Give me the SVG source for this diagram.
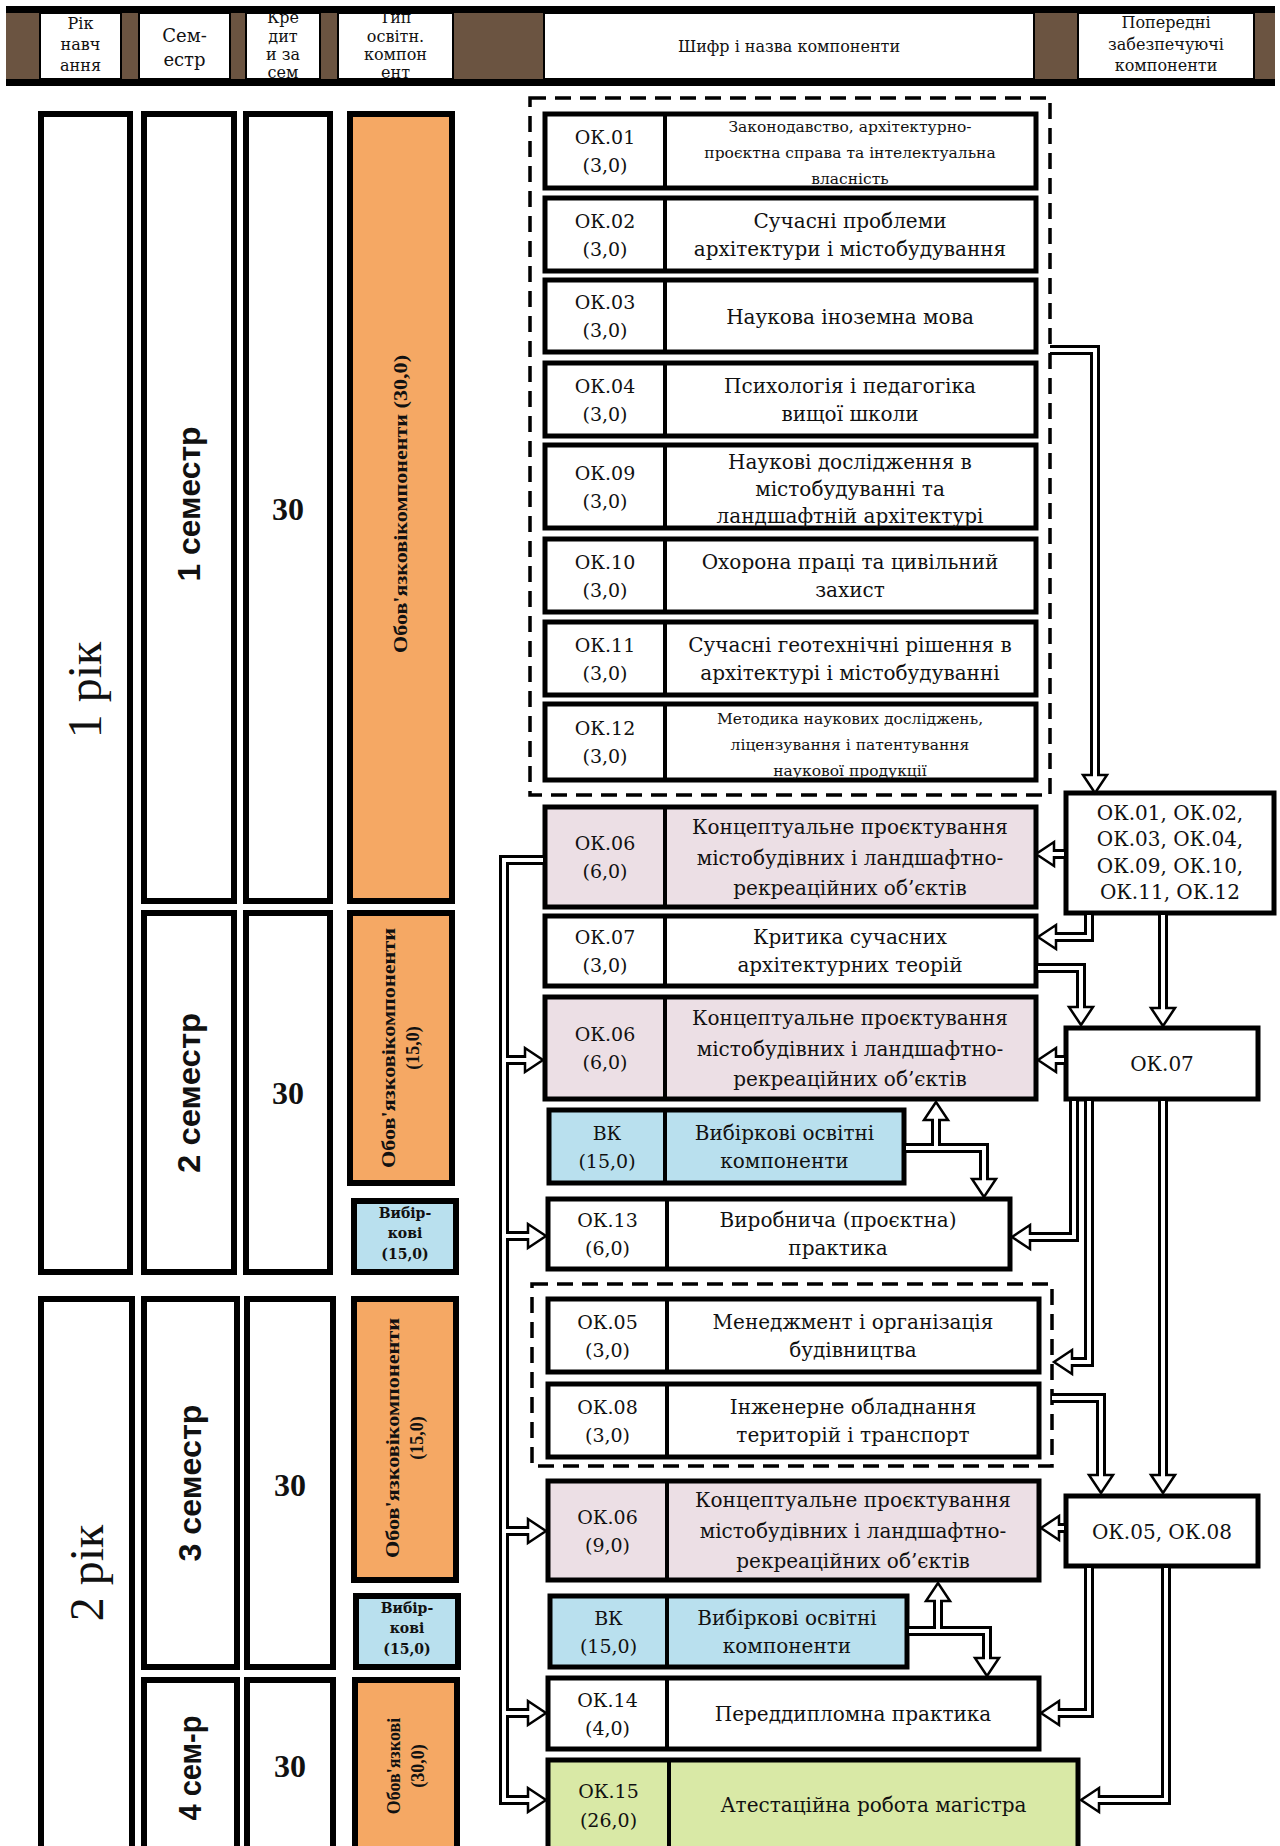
<svg xmlns="http://www.w3.org/2000/svg" width="1280" height="1846" viewBox="0 0 1280 1846">
<style>
.bx{stroke:#000;stroke-width:5}
.lb{stroke:#000;stroke-width:6}
.w{fill:#fff}.pk{fill:#ecdfe5}.bl{fill:#b9e0ee}.gr{fill:#d9e9a6}.or{fill:#f5a864}
.dv{stroke:#000;stroke-width:4}
.ds{fill:none;stroke:#000;stroke-width:3.5;stroke-dasharray:16 9}
.t{font-family:"DejaVu Serif","Liberation Serif",serif;font-size:19px;text-anchor:middle;fill:#111}
.tt{font-size:20px}
.sm{font-size:15.5px}
.hd{font-family:"DejaVu Serif","Liberation Serif",serif;font-size:16px;text-anchor:middle;fill:#111}
.yr{font-family:"Liberation Serif",serif;font-size:48px;text-anchor:middle;fill:#111}
.sem{font-family:"Liberation Sans",Arial,sans-serif;font-weight:bold;font-size:32px;text-anchor:middle;fill:#111}
.cr{font-family:"Liberation Serif",serif;font-weight:bold;font-size:32px;text-anchor:middle;fill:#111}
.ob{font-family:"Liberation Serif",serif;font-weight:bold;font-size:18px;text-anchor:middle;fill:#111}
.vb{font-family:"DejaVu Serif","Liberation Serif",serif;font-weight:bold;font-size:14px;text-anchor:middle;fill:#111}
.co{fill:none;stroke:#000;stroke-width:10;stroke-linejoin:miter;marker-end:url(#ah)}
.ci{fill:none;stroke:#fff;stroke-width:4;stroke-linejoin:miter}
</style>
<defs>
<marker id="ah" markerUnits="userSpaceOnUse" orient="auto" refX="0" refY="0" markerWidth="24" markerHeight="32" viewBox="-2 -16 24 32" overflow="visible">
<path d="M0,-2 L0,-12 L18,0 L0,12 L0,2" fill="#fff" stroke="#000" stroke-width="2.5" stroke-linejoin="miter"/>
</marker>
<clipPath id="hc"><rect x="0" y="13" width="1280" height="66"/></clipPath>
</defs>
<rect width="1280" height="1846" fill="#fff"/>

<g id="header">
<rect x="6" y="6" width="1269" height="80" fill="#6b5441"/>
<rect x="6" y="6" width="1269" height="7" fill="#000"/>
<rect x="6" y="79" width="1269" height="7" fill="#000"/>
<rect x="40" y="13" width="81" height="66" fill="#fff" stroke="#000" stroke-width="2"/>
<rect x="139" y="13" width="91" height="66" fill="#fff" stroke="#000" stroke-width="2"/>
<rect x="246" y="13" width="74" height="66" fill="#fff" stroke="#000" stroke-width="2"/>
<rect x="338" y="13" width="115" height="66" fill="#fff" stroke="#000" stroke-width="2"/>
<rect x="544" y="13" width="490" height="66" fill="#fff" stroke="#000" stroke-width="2"/>
<rect x="1078" y="13" width="176" height="66" fill="#fff" stroke="#000" stroke-width="2"/>
<g clip-path="url(#hc)">
<text class="hd" x="80.5" y="29">Рік</text><text class="hd" x="80.5" y="50">навч</text><text class="hd" x="80.5" y="71">ання</text>
<text class="hd" x="184.5" y="42" style="font-size:18px">Сем-</text><text class="hd" x="184.5" y="66" style="font-size:18px">естр</text>
<text class="hd" x="283" y="23">Кре</text><text class="hd" x="283" y="42">дит</text><text class="hd" x="283" y="60">и за</text><text class="hd" x="283" y="78">сем</text>
<text class="hd" x="395.5" y="23">Тип</text><text class="hd" x="395.5" y="42">освітн.</text><text class="hd" x="395.5" y="60">компон</text><text class="hd" x="395.5" y="78">ент</text>
<text class="hd" x="789" y="52">Шифр і назва компоненти</text>
<text class="hd" x="1166" y="28">Попередні</text><text class="hd" x="1166" y="50">забезпечуючі</text><text class="hd" x="1166" y="71">компоненти</text>
</g>
</g>

<g id="year1">
<rect class="lb w" x="41" y="114" width="89" height="1158"/>
<text class="yr" transform="translate(85,690) rotate(-90)" y="16">1 рік</text>
</g>
<g id="year2">
<rect class="lb w" x="41" y="1299" width="91" height="570"/>
<text class="yr" transform="translate(87,1573) rotate(-90)" y="16">2 рік</text>
</g>
<g id="sem1">
<rect class="lb w" x="144" y="114" width="90" height="787"/>
<text class="sem" transform="translate(189,504) rotate(-90)" y="11" textLength="155" lengthAdjust="spacingAndGlyphs">1 семестр</text>
</g>
<g id="sem2">
<rect class="lb w" x="144" y="913" width="90" height="359"/>
<text class="sem" transform="translate(189,1093) rotate(-90)" y="11" textLength="160" lengthAdjust="spacingAndGlyphs">2 семестр</text>
</g>
<g id="sem3">
<rect class="lb w" x="144" y="1299" width="93" height="368"/>
<text class="sem" transform="translate(190,1483) rotate(-90)" y="11" textLength="157" lengthAdjust="spacingAndGlyphs">3 семестр</text>
</g>
<g id="sem4">
<rect class="lb w" x="144" y="1680" width="93" height="190"/>
<text class="sem" transform="translate(190,1768) rotate(-90)" y="11" textLength="105" lengthAdjust="spacingAndGlyphs">4 сем-р</text>
</g>
<g id="cr1">
<rect class="lb w" x="246" y="114" width="84" height="787"/>
<text class="cr" x="288" y="520">30</text>
</g>
<g id="cr2">
<rect class="lb w" x="246" y="913" width="84" height="359"/>
<text class="cr" x="288" y="1104">30</text>
</g>
<g id="cr3">
<rect class="lb w" x="247" y="1299" width="86" height="368"/>
<text class="cr" x="290" y="1496">30</text>
</g>
<g id="cr4">
<rect class="lb w" x="247" y="1680" width="86" height="190"/>
<text class="cr" x="290" y="1777">30</text>
</g>
<g id="ob1">
<rect class="lb or" x="350" y="114" width="102" height="787"/>
<text class="ob" transform="translate(401,504) rotate(-90)" y="6" textLength="298" lengthAdjust="spacingAndGlyphs">Обов'язковікомпоненти (30,0)</text>
</g>
<g id="ob2">
<rect class="lb or" x="350" y="913" width="102" height="270"/>
<text class="ob" transform="translate(401,1048) rotate(-90)" y="-6" textLength="240" lengthAdjust="spacingAndGlyphs">Обов'язковікомпоненти</text>
<text class="ob" transform="translate(401,1048) rotate(-90)" y="18">(15,0)</text>
</g>
<g id="vb2">
<rect class="lb bl" x="354" y="1201" width="102" height="71"/>
<text class="vb" x="405" y="1218">Вибір-</text><text class="vb" x="405" y="1238">кові</text><text class="vb" x="405" y="1259">(15,0)</text>
</g>
<g id="ob3">
<rect class="lb or" x="354" y="1299" width="102" height="281"/>
<text class="ob" transform="translate(405,1438) rotate(-90)" y="-6" textLength="240" lengthAdjust="spacingAndGlyphs">Обов'язковікомпоненти</text>
<text class="ob" transform="translate(405,1438) rotate(-90)" y="18">(15,0)</text>
</g>
<g id="vb3">
<rect class="lb bl" x="356" y="1596" width="102" height="71"/>
<text class="vb" x="407" y="1613">Вибір-</text><text class="vb" x="407" y="1633">кові</text><text class="vb" x="407" y="1654">(15,0)</text>
</g>
<g id="ob4">
<rect class="lb or" x="355" y="1680" width="102" height="190"/>
<text class="ob" transform="translate(406,1766) rotate(-90)" y="-6">Обов'язкові</text>
<text class="ob" transform="translate(406,1766) rotate(-90)" y="18">(30,0)</text>
</g>

<rect class="ds" x="530" y="98" width="520" height="697"/>
<rect class="ds" x="532" y="1284" width="520" height="182"/>

<g id="ok01">
<rect class="bx w" x="545" y="114" width="491" height="74"/><line class="dv" x1="665" y1="114" x2="665" y2="188"/>
<text class="t" x="605" y="144">ОК.01</text><text class="t" x="605" y="172">(3,0)</text>
<text class="t sm" x="850" y="132">Законодавство, архітектурно-</text><text class="t sm" x="850" y="158">проєктна справа та інтелектуальна</text><text class="t sm" x="850" y="184">власність</text>
</g>
<g id="ok02">
<rect class="bx w" x="545" y="198" width="491" height="73"/><line class="dv" x1="665" y1="198" x2="665" y2="271"/>
<text class="t" x="605" y="227.5">ОК.02</text><text class="t" x="605" y="255.5">(3,0)</text>
<text class="t tt" x="850" y="228">Сучасні проблеми</text><text class="t tt" x="850" y="256">архітектури  і містобудування</text>
</g>
<g id="ok03">
<rect class="bx w" x="545" y="280" width="491" height="72"/><line class="dv" x1="665" y1="280" x2="665" y2="352"/>
<text class="t" x="605" y="309">ОК.03</text><text class="t" x="605" y="337">(3,0)</text>
<text class="t tt" x="850" y="324">Наукова іноземна мова</text>
</g>
<g id="ok04">
<rect class="bx w" x="545" y="363" width="491" height="73"/><line class="dv" x1="665" y1="363" x2="665" y2="436"/>
<text class="t" x="605" y="392.5">ОК.04</text><text class="t" x="605" y="420.5">(3,0)</text>
<text class="t tt" x="850" y="392.5">Психологія  і педагогіка</text><text class="t tt" x="850" y="420.5">вищої школи</text>
</g>
<g id="ok09">
<rect class="bx w" x="545" y="445" width="491" height="83"/><line class="dv" x1="665" y1="445" x2="665" y2="528"/>
<text class="t" x="605" y="479.5">ОК.09</text><text class="t" x="605" y="507.5">(3,0)</text>
<text class="t tt" x="850" y="469">Наукові дослідження в</text><text class="t tt" x="850" y="496">містобудуванні та</text><text class="t tt" x="850" y="523">ландшафтній  архітектурі</text>
</g>
<g id="ok10">
<rect class="bx w" x="545" y="539" width="491" height="73"/><line class="dv" x1="665" y1="539" x2="665" y2="612"/>
<text class="t" x="605" y="568.5">ОК.10</text><text class="t" x="605" y="596.5">(3,0)</text>
<text class="t tt" x="850" y="568.5">Охорона праці та цивільний</text><text class="t tt" x="850" y="596.5">захист</text>
</g>
<g id="ok11">
<rect class="bx w" x="545" y="622" width="491" height="73"/><line class="dv" x1="665" y1="622" x2="665" y2="695"/>
<text class="t" x="605" y="651.5">ОК.11</text><text class="t" x="605" y="679.5">(3,0)</text>
<text class="t tt" x="850" y="651.5">Сучасні геотехнічні  рішення в</text><text class="t tt" x="850" y="679.5">архітектурі і містобудуванні</text>
</g>
<g id="ok12">
<rect class="bx w" x="545" y="704" width="491" height="76"/><line class="dv" x1="665" y1="704" x2="665" y2="780"/>
<text class="t" x="605" y="735">ОК.12</text><text class="t" x="605" y="763">(3,0)</text>
<text class="t sm" x="850" y="724">Методика наукових досліджень,</text><text class="t sm" x="850" y="750">ліцензування і патентування</text><text class="t sm" x="850" y="776">наукової продукції</text>
</g>
<g id="ok06a">
<rect class="bx pk" x="545" y="807" width="491" height="100"/><line class="dv" x1="665" y1="807" x2="665" y2="907"/>
<text class="t" x="605" y="850">ОК.06</text><text class="t" x="605" y="878">(6,0)</text>
<text class="t tt" x="850" y="833.5">Концептуальне  проєктування</text><text class="t tt" x="850" y="864.5">містобудівних  і ландшафтно-</text><text class="t tt" x="850" y="894.5">рекреаційних  об’єктів</text>
</g>
<g id="ok07">
<rect class="bx w" x="545" y="916" width="491" height="70"/><line class="dv" x1="665" y1="916" x2="665" y2="986"/>
<text class="t" x="605" y="944">ОК.07</text><text class="t" x="605" y="972">(3,0)</text>
<text class="t tt" x="850" y="944">Критика  сучасних</text><text class="t tt" x="850" y="972">архітектурних  теорій</text>
</g>
<g id="ok06b">
<rect class="bx pk" x="545" y="997" width="491" height="102"/><line class="dv" x1="665" y1="997" x2="665" y2="1099"/>
<text class="t" x="605" y="1041">ОК.06</text><text class="t" x="605" y="1069">(6,0)</text>
<text class="t tt" x="850" y="1024.5">Концептуальне  проєктування</text><text class="t tt" x="850" y="1055.5">містобудівних  і ландшафтно-</text><text class="t tt" x="850" y="1085.5">рекреаційних  об’єктів</text>
</g>
<g id="vk1">
<rect class="bx bl" x="549" y="1110" width="355" height="73"/><line class="dv" x1="665" y1="1110" x2="665" y2="1183"/>
<text class="t" x="607" y="1139.5">ВК</text><text class="t" x="607" y="1167.5">(15,0)</text>
<text class="t tt" x="784.5" y="1139.5">Вибіркові  освітні</text><text class="t tt" x="784.5" y="1167.5">компоненти</text>
</g>
<g id="ok13">
<rect class="bx w" x="548" y="1199" width="462" height="70"/><line class="dv" x1="667" y1="1199" x2="667" y2="1269"/>
<text class="t" x="607.5" y="1227">ОК.13</text><text class="t" x="607.5" y="1255">(6,0)</text>
<text class="t tt" x="838" y="1227">Виробнича (проєктна)</text><text class="t tt" x="838" y="1255">практика</text>
</g>
<g id="ok05">
<rect class="bx w" x="548" y="1299" width="491" height="73"/><line class="dv" x1="667" y1="1299" x2="667" y2="1372"/>
<text class="t" x="607.5" y="1328.5">ОК.05</text><text class="t" x="607.5" y="1356.5">(3,0)</text>
<text class="t tt" x="853" y="1328.5">Менеджмент і організація</text><text class="t tt" x="853" y="1356.5">будівництва</text>
</g>
<g id="ok08">
<rect class="bx w" x="548" y="1384" width="491" height="73"/><line class="dv" x1="667" y1="1384" x2="667" y2="1457"/>
<text class="t" x="607.5" y="1413.5">ОК.08</text><text class="t" x="607.5" y="1441.5">(3,0)</text>
<text class="t tt" x="853" y="1413.5">Інженерне  обладнання</text><text class="t tt" x="853" y="1441.5">територій і транспорт</text>
</g>
<g id="ok06c">
<rect class="bx pk" x="548" y="1481" width="491" height="99"/><line class="dv" x1="667" y1="1481" x2="667" y2="1580"/>
<text class="t" x="607.5" y="1523.5">ОК.06</text><text class="t" x="607.5" y="1551.5">(9,0)</text>
<text class="t tt" x="853" y="1507">Концептуальне  проєктування</text><text class="t tt" x="853" y="1538">містобудівних  і ландшафтно-</text><text class="t tt" x="853" y="1568">рекреаційних  об’єктів</text>
</g>
<g id="vk2">
<rect class="bx bl" x="550" y="1596" width="357" height="71"/><line class="dv" x1="667" y1="1596" x2="667" y2="1667"/>
<text class="t" x="608.5" y="1624.5">ВК</text><text class="t" x="608.5" y="1652.5">(15,0)</text>
<text class="t tt" x="787" y="1624.5">Вибіркові  освітні</text><text class="t tt" x="787" y="1652.5">компоненти</text>
</g>
<g id="ok14">
<rect class="bx w" x="548" y="1678" width="491" height="71"/><line class="dv" x1="667" y1="1678" x2="667" y2="1749"/>
<text class="t" x="607.5" y="1706.5">ОК.14</text><text class="t" x="607.5" y="1734.5">(4,0)</text>
<text class="t tt" x="853" y="1721">Переддипломна  практика</text>
</g>
<g id="ok15">
<rect class="bx gr" x="548" y="1760" width="530" height="110"/><line class="dv" x1="669" y1="1760" x2="669" y2="1870"/>
<text class="t" x="608.5" y="1797.5">ОК.15</text><text class="t" x="608.5" y="1826.5">(26,0)</text>
<text class="t tt" x="873.5" y="1811.5">Атестаційна  робота магістра</text>
</g>

<g id="pre1">
<rect class="bx w" x="1066" y="793" width="208" height="120"/>
<text class="t tt" x="1170" y="819.5">ОК.01,  ОК.02,</text><text class="t tt" x="1170" y="845.5">ОК.03,  ОК.04,</text><text class="t tt" x="1170" y="872.5">ОК.09,  ОК.10,</text><text class="t tt" x="1170" y="898.5">ОК.11,  ОК.12</text>
</g>
<g id="pre2">
<rect class="bx w" x="1066" y="1028" width="192" height="71"/>
<text class="t tt" x="1162" y="1071">ОК.07</text>
</g>
<g id="pre3">
<rect class="bx w" x="1066" y="1496" width="192" height="70"/>
<text class="t tt" x="1162" y="1538.5">ОК.05,  ОК.08</text>
</g>

<g id="connectors">
<path class="co" d="M1050,350 H1095 V775"/>
<path class="co" d="M1064,854 H1054"/>
<path class="co" d="M1089,915 V937 H1056"/>
<path class="co" d="M1163,915 V1008"/>
<path class="co" d="M1038,968 H1081 V1007"/>
<path class="co" d="M1064,1060 H1056"/>
<path class="co" d="M1074,1101 V1237 H1030"/>
<path class="co" d="M1089,1101 V1362 H1072"/>
<path class="co" d="M1163,1101 V1475"/>
<path class="co" d="M1052,1398 H1101 V1475"/>
<path class="co" d="M1064,1528 H1059"/>
<path class="co" d="M1089,1568 V1713 H1059"/>
<path class="co" d="M1166,1568 V1800 H1099"/>
<path class="co" d="M906,1148 H936 V1120"/>
<path class="co" d="M906,1148 H984 V1179"/>
<path class="co" d="M909,1631 H938 V1601"/>
<path class="co" d="M909,1631 H987 V1658"/>
<path class="co" d="M543,860 H504 V1800 H528"/>
<path class="co" d="M504,1060 H525"/>
<path class="co" d="M504,1236 H528"/>
<path class="co" d="M504,1531 H528"/>
<path class="co" d="M504,1713 H528"/>
<path class="ci" d="M1050,350 H1095 V775"/>
<path class="ci" d="M1064,854 H1054"/>
<path class="ci" d="M1089,915 V937 H1056"/>
<path class="ci" d="M1163,915 V1008"/>
<path class="ci" d="M1038,968 H1081 V1007"/>
<path class="ci" d="M1064,1060 H1056"/>
<path class="ci" d="M1074,1101 V1237 H1030"/>
<path class="ci" d="M1089,1101 V1362 H1072"/>
<path class="ci" d="M1163,1101 V1475"/>
<path class="ci" d="M1052,1398 H1101 V1475"/>
<path class="ci" d="M1064,1528 H1059"/>
<path class="ci" d="M1089,1568 V1713 H1059"/>
<path class="ci" d="M1166,1568 V1800 H1099"/>
<path class="ci" d="M906,1148 H936 V1120"/>
<path class="ci" d="M906,1148 H984 V1179"/>
<path class="ci" d="M909,1631 H938 V1601"/>
<path class="ci" d="M909,1631 H987 V1658"/>
<path class="ci" d="M543,860 H504 V1800 H528"/>
<path class="ci" d="M504,1060 H525"/>
<path class="ci" d="M504,1236 H528"/>
<path class="ci" d="M504,1531 H528"/>
<path class="ci" d="M504,1713 H528"/>
</g>
</svg>
